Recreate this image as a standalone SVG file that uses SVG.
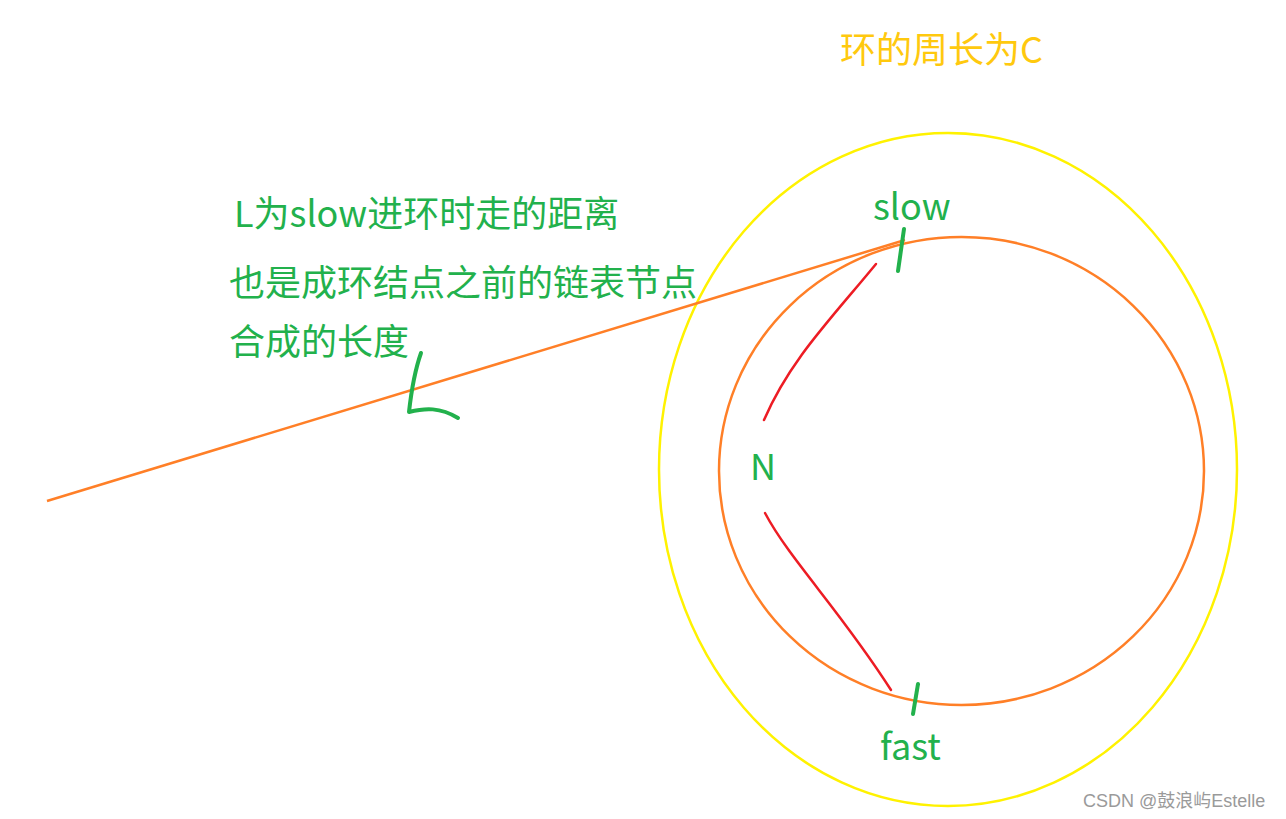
<svg xmlns="http://www.w3.org/2000/svg" width="1286" height="819" viewBox="0 0 1286 819">
<style>
.t{font-family:"Noto Sans CJK SC","Noto Sans",sans-serif;font-size:36px;fill:#22B14C}
.g{fill:none;stroke:#22B14C;stroke-width:4;stroke-linecap:round;stroke-linejoin:round}
.r{fill:none;stroke:#ED1C24;stroke-width:2.5;stroke-linecap:round}
</style>
<rect width="1286" height="819" fill="#fff"/>
<g id="outer-ring"><ellipse cx="948" cy="469.5" rx="289" ry="336.5" fill="none" stroke="#FFF200" stroke-width="2.5"/></g>
<g id="inner-ring"><ellipse cx="961.5" cy="471" rx="242.5" ry="234" fill="none" stroke="#FF7F27" stroke-width="2.5"/></g>
<g id="connectors">
<path d="M47 501 L905 240" fill="none" stroke="#FF7F27" stroke-width="2.5"/>
<path class="r" d="M876 264 C830 320 790 360 764 420"/>
<path class="r" d="M765 513 C790 560 840 610 891 690"/>
</g>
<g id="ticks">
<path class="g" d="M904 229 L898 271"/>
<path class="g" d="M918 684 L913 714"/>
<path class="g" d="M421 353 C415 370 412 385 409 412 C425 408 440 407 458 418"/>
</g>
<g id="labels">
<text x="840" y="63" class="t" style="fill:#FFC90E">环的周长为C</text>
<text x="234" y="227" class="t">L为slow进环时走的距离</text>
<text x="229" y="296" class="t">也是成环结点之前的链表节点</text>
<text x="229" y="355" class="t">合成的长度</text>
<text x="873" y="220" class="t">slow</text>
<text x="750" y="480" class="t">N</text>
<text x="880" y="760" class="t">fast</text>
<text x="1083" y="807" style="font-family:'Liberation Sans','Noto Sans CJK SC',sans-serif;font-size:18px;fill:#9a9a9a">CSDN @鼓浪屿Estelle</text>
</g>
</svg>
